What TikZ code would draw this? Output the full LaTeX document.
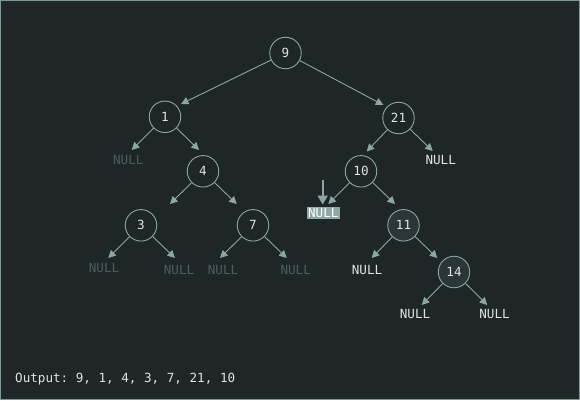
\documentclass[tikz,border=0pt]{standalone}
\usepackage{fontspec}
\setmonofont{DejaVu Sans Mono}
\usetikzlibrary{arrows.meta}
\definecolor{bgc}{HTML}{1E2628}
\definecolor{edgec}{HTML}{8CA6A4}
\definecolor{txtc}{HTML}{DCE4E4}
\definecolor{dimc}{HTML}{4C5E5F}
\definecolor{fillc}{HTML}{2C3638}
\definecolor{hlc}{HTML}{8FA8A6}
\definecolor{framec}{HTML}{7F9A98}
\tikzset{
  tnode/.style={circle, draw=edgec, line width=0.9pt, minimum size=31.5pt, inner sep=0pt, text=txtc, font=\ttfamily\fontsize{12.6}{14}\selectfont},
  visited/.style={fill=fillc},
  nulltxt/.style={inner sep=0pt, font=\ttfamily\fontsize{12.6}{14}\selectfont},
  nulldim/.style={nulltxt, text=dimc},
  nullbright/.style={nulltxt, text=txtc},
  nullhl/.style={nulltxt, fill=hlc, text=white, inner xsep=1.5pt, inner ysep=1.5pt},
  conn/.style={draw=edgec, line width=0.9pt, -{Triangle[length=7.5pt,width=7.5pt]}},
  pointer/.style={draw=edgec, line width=1.8pt, -{Triangle[length=9pt,width=10pt]}}
}
\begin{document}
\begin{tikzpicture}[x=1pt,y=-1pt]
\fill[bgc] (0,0) rectangle (580,400);
\draw[framec, line width=1pt] (0.5,0.5) rectangle (579.5,399.5);
\useasboundingbox (0,0) rectangle (580,400);
% tree nodes
\node[tnode] (n9) at (285.5,53) {9};
\node[tnode] (n1) at (165,116.8) {1};
\node[tnode] (n21) at (398.5,118) {21};
\node[tnode] (n4) at (203,171.3) {4};
\node[tnode] (n10) at (361,171.3) {10};
\node[tnode] (n3) at (141,225.3) {3};
\node[tnode] (n7) at (253,225.3) {7};
\node[tnode,visited] (n11) at (403.5,225.3) {11};
\node[tnode,visited] (n14) at (454,272) {14};
% NULL labels
\node[nulldim] (u1) at (128.3,160.3) {NULL};
\node[nullbright] (u21) at (440.7,160) {NULL};
\node[nullhl] (u10) at (323.3,213) {NULL};
\node[nulldim] (u3a) at (104,267.5) {NULL};
\node[nulldim] (u3b) at (179,270) {NULL};
\node[nulldim] (u7a) at (223,270) {NULL};
\node[nulldim] (u7b) at (295.7,270) {NULL};
\node[nullbright] (u11) at (367,270) {NULL};
\node[nullbright] (u14a) at (415,314) {NULL};
\node[nullbright] (u14b) at (494.5,314) {NULL};
% arrow end coordinates
\coordinate (a1) at (181,104);
\coordinate (a2) at (383.3,105);
\coordinate (a3) at (131.7,150);
\coordinate (a4) at (199,150);
\coordinate (a5) at (366.7,151.5);
\coordinate (a6) at (432.7,151);
\coordinate (a7) at (170,204);
\coordinate (a8) at (236.7,204);
\coordinate (a9) at (328.3,204);
\coordinate (a10) at (395,204);
\coordinate (a11) at (108.3,258);
\coordinate (a12) at (175,258);
\coordinate (a13) at (220,258);
\coordinate (a14) at (286.7,258);
\coordinate (a15) at (371.7,258);
\coordinate (a16) at (437.3,258);
\coordinate (a17) at (421.7,305);
\coordinate (a18) at (487.3,305);
\coordinate (p0) at (322.7,180);
\coordinate (p1) at (322.7,204.5);
% connectors
\draw[conn] (n9) -- (a1);
\draw[conn] (n9) -- (a2);
\draw[conn] (n1) -- (a3);
\draw[conn] (n1) -- (a4);
\draw[conn] (n21) -- (a5);
\draw[conn] (n21) -- (a6);
\draw[conn] (n4) -- (a7);
\draw[conn] (n4) -- (a8);
\draw[conn] (n10) -- (a9);
\draw[conn] (n10) -- (a10);
\draw[conn] (n3) -- (a11);
\draw[conn] (n3) -- (a12);
\draw[conn] (n7) -- (a13);
\draw[conn] (n7) -- (a14);
\draw[conn] (n11) -- (a15);
\draw[conn] (n11) -- (a16);
\draw[conn] (n14) -- (a17);
\draw[conn] (n14) -- (a18);
\draw[pointer] (p0) -- (p1);
% output
\node[anchor=west, inner sep=0pt, text=txtc, font=\ttfamily\fontsize{12.6}{14}\selectfont] (out) at (15,379.5) {Output: 9, 1, 4, 3, 7, 21, 10};
\end{tikzpicture}
\end{document}
